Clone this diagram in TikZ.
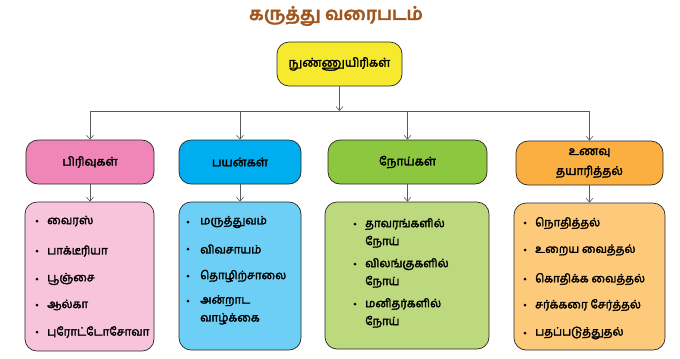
\documentclass[tikz,border=0pt]{standalone}
\usepackage{fontspec}
\newfontfamily\ta[Script=Tamil, FakeBold=2.5]{Hind Madurai}
\newfontfamily\tab[Script=Tamil, FakeBold=1.5]{Hind Madurai}
\usetikzlibrary{arrows.meta}
\definecolor{titlebrown}{HTML}{A0561E}
\definecolor{topyellow}{HTML}{F7EA2E}
\definecolor{pinkH}{HTML}{EF86B7}
\definecolor{pinkL}{HTML}{F8C4DC}
\definecolor{blueH}{HTML}{00AEEF}
\definecolor{blueL}{HTML}{6DCFF6}
\definecolor{greenH}{HTML}{8DC63F}
\definecolor{greenL}{HTML}{BCD97E}
\definecolor{orangeH}{HTML}{FBAF41}
\definecolor{orangeL}{HTML}{FDC97B}
\definecolor{linec}{HTML}{555A60}
\begin{document}
\begin{tikzpicture}[x=1bp,y=-1bp,
  box/.style={draw=black!85, line width=0.7pt, rounded corners=12bp, inner sep=0pt},
  hdr/.style={box, minimum height=44bp, align=center, font=\ta\fontsize{12}{20}\selectfont},
  lst/.style={box},
  item/.style={anchor=west, inner sep=0pt, align=left, font=\ta\fontsize{11.5}{18}\selectfont},
  conn/.style={draw=linec, line width=0.6pt},
  arr/.style={conn, -{Straight Barb[length=4bp,width=7bp]}},
  dot/.style={fill=black, radius=1.5bp}
]
\useasboundingbox (0,0) rectangle (680,358);

\node[font=\tab\bfseries\fontsize{18}{20}\selectfont, text=titlebrown] (title) at (336,16) {கருத்து வரைபடம்};

\node[box, fill=topyellow, minimum width=125bp, minimum height=44bp, font=\ta\fontsize{12}{18}\selectfont] (top) at (339.5,64) {நுண்ணுயிரிகள்};

% headers
\node[hdr, fill=pinkH, minimum width=128bp] (h1) at (90,162) {பிரிவுகள்};
\node[hdr, fill=blueH, minimum width=122bp] (h2) at (240,162) {பயன்கள்};
\node[hdr, fill=greenH, minimum width=159bp] (h3) at (407.5,162) {நோய்கள்};
\node[hdr, fill=orangeH, minimum width=147bp] (h4) at (589.5,163) {உணவு\\தயாரித்தல்};

% list boxes
\node[lst, fill=pinkL, minimum width=129bp, minimum height=149bp] (l1) at (89.5,276.5) {};
\node[lst, fill=blueL, minimum width=122bp, minimum height=148bp] (l2) at (240,276) {};
\node[lst, fill=greenL, minimum width=164bp, minimum height=147bp] (l3) at (407,275.5) {};
\node[lst, fill=orangeL, minimum width=151bp, minimum height=147bp] (l4) at (589.5,276.5) {};

% connectors
\coordinate (bus) at (339.5,111);
\draw[arr] (top.south) -- (bus);
\draw[conn] (h1.north |- bus) -- (h4.north |- bus);
\foreach \h in {h1,h2,h3,h4}{
  \draw[arr] (\h.north |- bus) -- (\h.north);
}
\draw[arr] (h1.south) -- (h1.south |- l1.north);
\draw[arr] (h2.south) -- (h2.south |- l2.north);
\draw[arr] (h3.south) -- (h3.south |- l3.north);
\draw[arr] (h4.south) -- (h4.south |- l4.north);

% pink items
\node[item] (p1) at (47,221) {வைரஸ்};
\node[item] (p2) at (47,251) {பாக்டீரியா};
\node[item] (p3) at (47,279) {பூஞ்சை};
\node[item] (p4) at (47,305) {ஆல்கா};
\node[item] (p5) at (47,332) {புரோட்டோசோவா};
\foreach \n in {p1,p2,p3,p4,p5}{\fill[dot] ([xshift=-10bp]\n.west) circle;}

% blue items
\node[item] (b1) at (200,222) {மருத்துவம்};
\node[item] (b2) at (200,249) {விவசாயம்};
\node[item] (b3) at (200,276) {தொழிற்சாலை};
\node[item, anchor=north west] (b4) at (200,295) {அன்றாட\\வாழ்க்கை};
\foreach \n in {b1,b2,b3}{\fill[dot] ([xshift=-12bp]\n.west) circle;}
\fill[dot] (188,301) circle;

% green items
\node[item, anchor=north west] (g1) at (365,218) {தாவரங்களில்\\நோய்};
\node[item, anchor=north west] (g2) at (365,258) {விலங்குகளில்\\நோய்};
\node[item, anchor=north west] (g3) at (365,298) {மனிதர்களில்\\நோய்};
\fill[dot] (355,224) circle;
\fill[dot] (355,264) circle;
\fill[dot] (355,304) circle;

% orange items
\node[item] (o1) at (535,223) {நொதித்தல்};
\node[item] (o2) at (535,250) {உறைய வைத்தல்};
\node[item] (o3) at (535,279) {கொதிக்க வைத்தல்};
\node[item] (o4) at (535,305) {சர்க்கரை சேர்த்தல்};
\node[item] (o5) at (535,333) {பதப்படுத்துதல்};
\foreach \n in {o1,o2,o3,o4,o5}{\fill[dot] ([xshift=-10bp]\n.west) circle;}
\end{tikzpicture}
\end{document}
